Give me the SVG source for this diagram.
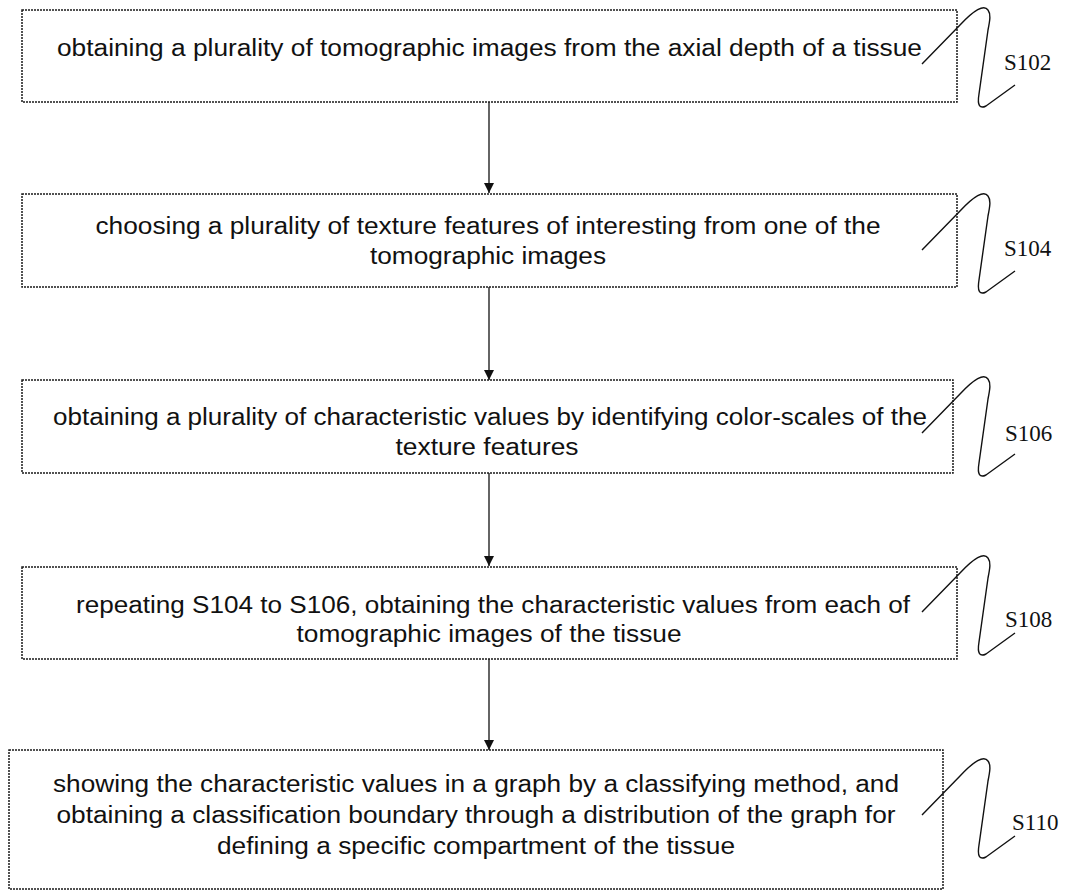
<svg xmlns="http://www.w3.org/2000/svg" width="1072" height="892" viewBox="0 0 1072 892">
  <style>
    .box { fill: #fff; stroke: #1a1a1a; stroke-width: 1.5; stroke-dasharray: 2 1; }
    .txt { font-family: "Liberation Sans", Arial, sans-serif; font-size: 23px; fill: #111; text-anchor: middle; }
    .lbl { font-family: "Liberation Serif", "Times New Roman", serif; font-size: 23px; fill: #111; }
    .sq { fill: none; stroke: #111; stroke-width: 1.4; }
    .con { stroke: #111; stroke-width: 1.3; fill: none; marker-end: url(#ah); }
  </style>
  <defs>
    <marker id="ah" markerWidth="12" markerHeight="12" refX="10" refY="5" orient="auto" markerUnits="userSpaceOnUse">
      <path d="M0,0 L10,5 L0,10 Z" fill="#111"/>
    </marker>
    <!-- leader squiggle, drawn from its start point at the box edge -->
    <path id="squiggle" d="M0,0 L38,-39 C52,-54 62,-60 66,-54 C69,-50 68,-44 66,-34 L57,30 C55,42 58,45 64,42 L93,21"/>
  </defs>
  <rect width="1072" height="892" fill="#fff"/>

  <g id="connectors">
    <line class="con" x1="489" y1="102" x2="489" y2="193"/>
    <line class="con" x1="489" y1="287" x2="489" y2="380"/>
    <line class="con" x1="489" y1="473" x2="489" y2="566"/>
    <line class="con" x1="489" y1="659" x2="489" y2="750"/>
  </g>

  <g id="S102">
    <rect class="box" x="22" y="10" width="935" height="92"/>
    <text class="txt" x="489.5" y="56" textLength="865" lengthAdjust="spacingAndGlyphs">obtaining a plurality of tomographic images from the axial depth of a tissue</text>
    <use href="#squiggle" class="sq" x="922" y="64"/>
    <text class="lbl" x="1004" y="70">S102</text>
  </g>

  <g id="S104">
    <rect class="box" x="22" y="194" width="935" height="93"/>
    <text class="txt" x="488" y="234" textLength="785" lengthAdjust="spacingAndGlyphs">choosing a plurality of texture features of interesting from one of the</text>
    <text class="txt" x="488" y="264" textLength="236" lengthAdjust="spacingAndGlyphs">tomographic images</text>
    <use href="#squiggle" class="sq" x="922" y="250"/>
    <text class="lbl" x="1004" y="256">S104</text>
  </g>

  <g id="S106">
    <rect class="box" x="22" y="380" width="931" height="93"/>
    <text class="txt" x="490" y="425" textLength="874" lengthAdjust="spacingAndGlyphs">obtaining a plurality of characteristic values by identifying color-scales of the</text>
    <text class="txt" x="487" y="455" textLength="183" lengthAdjust="spacingAndGlyphs">texture features</text>
    <use href="#squiggle" class="sq" x="922" y="433"/>
    <text class="lbl" x="1005" y="441">S106</text>
  </g>

  <g id="S108">
    <rect class="box" x="22" y="567" width="935" height="92"/>
    <text class="txt" x="493" y="613" textLength="834" lengthAdjust="spacingAndGlyphs">repeating S104 to S106, obtaining the characteristic values from each of</text>
    <text class="txt" x="489" y="642" textLength="385" lengthAdjust="spacingAndGlyphs">tomographic images of the tissue</text>
    <use href="#squiggle" class="sq" x="922" y="612"/>
    <text class="lbl" x="1005" y="627">S108</text>
  </g>

  <g id="S110">
    <rect class="box" x="9" y="750" width="934" height="139"/>
    <text class="txt" x="476" y="792" textLength="846" lengthAdjust="spacingAndGlyphs">showing the characteristic values in a graph by a classifying method, and</text>
    <text class="txt" x="476" y="823" textLength="839" lengthAdjust="spacingAndGlyphs">obtaining a classification boundary through a distribution of the graph for</text>
    <text class="txt" x="476" y="854" textLength="518" lengthAdjust="spacingAndGlyphs">defining a specific compartment of the tissue</text>
    <use href="#squiggle" class="sq" x="922" y="815"/>
    <text class="lbl" x="1012" y="830">S110</text>
  </g>
</svg>
